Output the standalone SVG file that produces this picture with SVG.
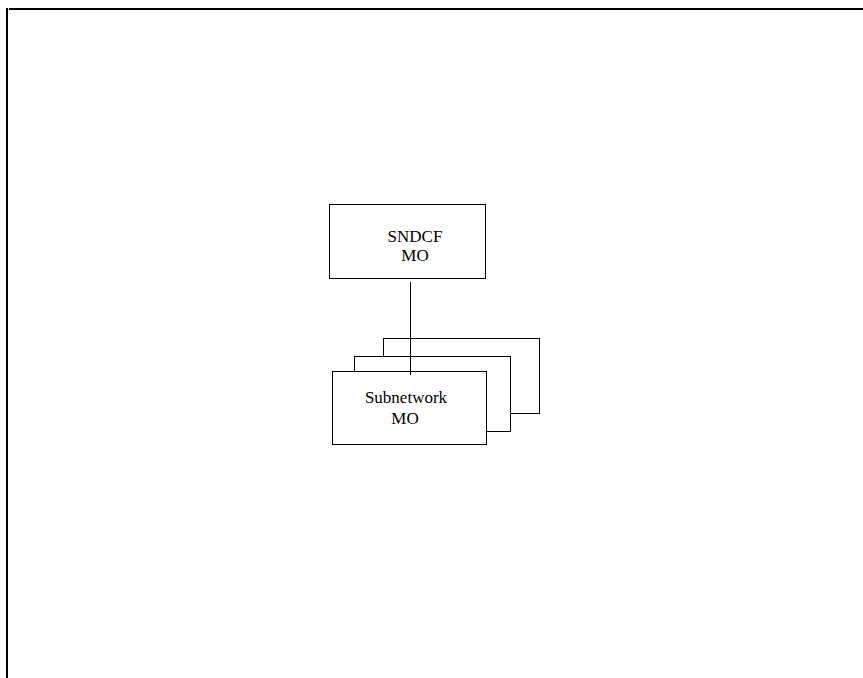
<svg xmlns="http://www.w3.org/2000/svg" width="863" height="678" viewBox="0 0 863 678">
<style>
.box{fill:#fff;stroke:#000;stroke-width:1}
.lbl{font-family:"Liberation Serif","Times New Roman",serif;font-size:17px;fill:#000;text-anchor:middle}
.edge{stroke:#000;stroke-width:1;fill:none}
.frame{stroke:#000;stroke-width:2;fill:none}
</style>
<rect width="863" height="678" fill="#fff"/>
<g id="frame">
<line class="frame" x1="7" y1="8" x2="7" y2="678"/>
<line class="frame" x1="9" y1="9" x2="863" y2="9"/>
</g>
<g id="sndcf">
<rect class="box" x="329.5" y="204.5" width="156" height="74"/>
<text class="lbl" x="415" y="242">SNDCF</text>
<text class="lbl" x="415" y="261">MO</text>
</g>
<g id="subnetwork">
<rect class="box" x="383.5" y="338.5" width="156" height="75"/>
<rect class="box" x="354.5" y="356.5" width="156" height="75"/>
<rect class="box" x="332.5" y="371.5" width="154" height="73"/>
<text class="lbl" x="406" y="403">Subnetwork</text>
<text class="lbl" x="405" y="424">MO</text>
</g>
<g id="connectors">
<line class="edge" x1="410.5" y1="282" x2="410.5" y2="375"/>
</g>
</svg>
